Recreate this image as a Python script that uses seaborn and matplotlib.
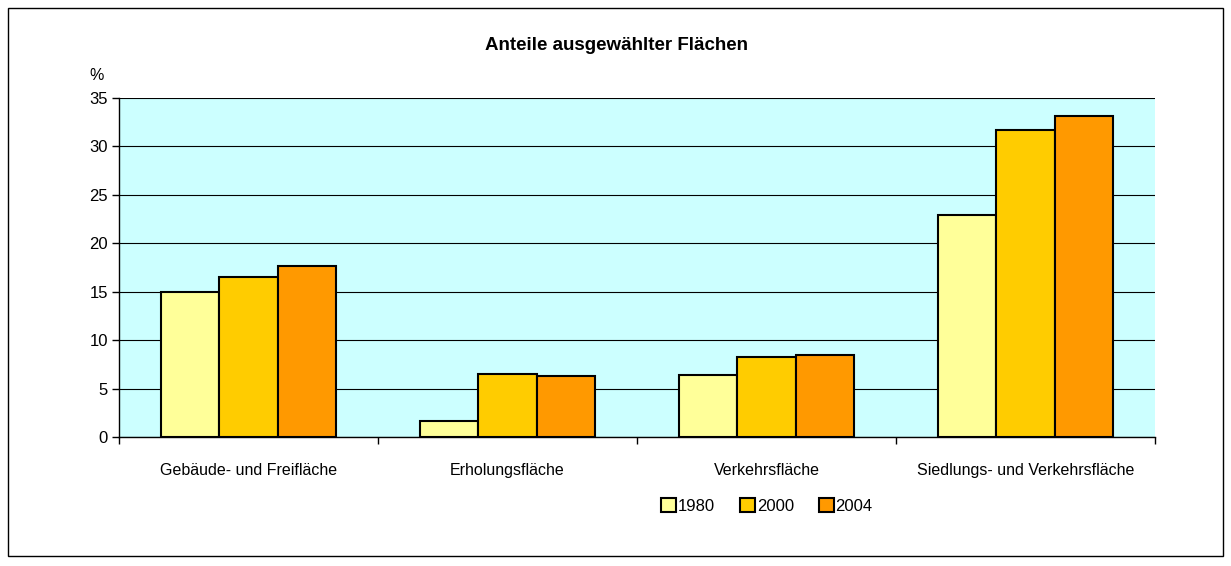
import matplotlib
matplotlib.use("Agg")
import matplotlib.pyplot as plt
import seaborn as sns
import pandas as pd
from matplotlib.patches import Rectangle, Patch

categories = ["Gebäude- und Freifläche", "Erholungsfläche", "Verkehrsfläche", "Siedlungs- und Verkehrsfläche"]
years = ["1980", "2000", "2004"]
values_1980 = [15.0, 1.7, 6.4, 22.9]
values_2000 = [16.5, 6.5, 8.3, 31.7]
values_2004 = [17.7, 6.3, 8.5, 33.1]
yticks = [0, 5, 10, 15, 20, 25, 30, 35]
title = "Anteile ausgewählter Flächen"
unit = "%"

colors = ["#FFFF99", "#FFCC00", "#FF9900"]

sns.set_theme(style="white")
plt.rcParams["font.family"] = ["Liberation Sans", "DejaVu Sans"]
plt.rcParams["text.color"] = "black"
plt.rcParams["xtick.color"] = "black"
plt.rcParams["ytick.color"] = "black"
plt.rcParams["xtick.labelcolor"] = "black"
plt.rcParams["ytick.labelcolor"] = "black"

rows = []
for yr, vals in zip(years, [values_1980, values_2000, values_2004]):
    for c, v in zip(categories, vals):
        rows.append({"Kategorie": c, "Jahr": yr, "Wert": v})
df = pd.DataFrame(rows)

fig = plt.figure(figsize=(12.31, 5.66), dpi=100)
ax = fig.add_axes([119/1231, 1-437/566, (1155-119)/1231, (437-98)/566])
ax.set_facecolor("#CCFFFF")

sns.barplot(data=df, x="Kategorie", y="Wert", hue="Jahr", order=categories,
            hue_order=years, palette=colors, saturation=1, width=0.672, edgecolor="black",
            linewidth=1.5, ax=ax, legend=False, zorder=3)

ax.set_ylim(0, 35)
ax.set_xlim(-0.5, len(categories) - 0.5)
ax.set_yticks(yticks)
ax.yaxis.grid(True, color="black", linewidth=0.8, zorder=0)
ax.set_axisbelow(True)
ax.set_xlabel("")
ax.set_ylabel("")

# category boundary ticks
ax.set_xticks([i - 0.5 for i in range(len(categories) + 1)])
ax.set_xticklabels([""] * (len(categories) + 1))
ax.set_xticks(range(len(categories)), minor=True)
ax.set_xticklabels(categories, minor=True, fontsize=11.5)
ax.tick_params(axis="x", which="major", direction="out", length=5, width=1, color="black", bottom=True)
ax.tick_params(axis="x", which="minor", length=0, pad=19, labelsize=11.5)
ax.tick_params(axis="y", direction="out", length=5, width=1, color="black", left=True, labelsize=12, pad=3)

for side in ["top", "right"]:
    ax.spines[side].set_visible(False)
for side in ["left", "bottom"]:
    ax.spines[side].set_color("black")
    ax.spines[side].set_linewidth(1.0)

fig.text(616/1231, 1 - 46/566, title, ha="center", va="center", fontsize=13.5, fontweight="bold", color="black")
fig.text(97/1231, 1 - 75/566, unit, ha="center", va="center", fontsize=11.5, color="black")

handles = [Patch(facecolor=c, edgecolor="black", linewidth=1.5) for c in colors]
fig.legend(handles, years, loc="center", bbox_to_anchor=(767/1231, 1 - 506/566), ncol=3,
           frameon=False, fontsize=12, handlelength=0.9, handleheight=0.9,
           handletextpad=0.1, columnspacing=1.5, labelcolor="black")

fig.patches.append(Rectangle((8/1231, 1 - 556/566), 1215/1231, 548/566, transform=fig.transFigure,
                             fill=False, edgecolor="black", linewidth=1.0))

fig.savefig("out.png", dpi=100, facecolor="white")
